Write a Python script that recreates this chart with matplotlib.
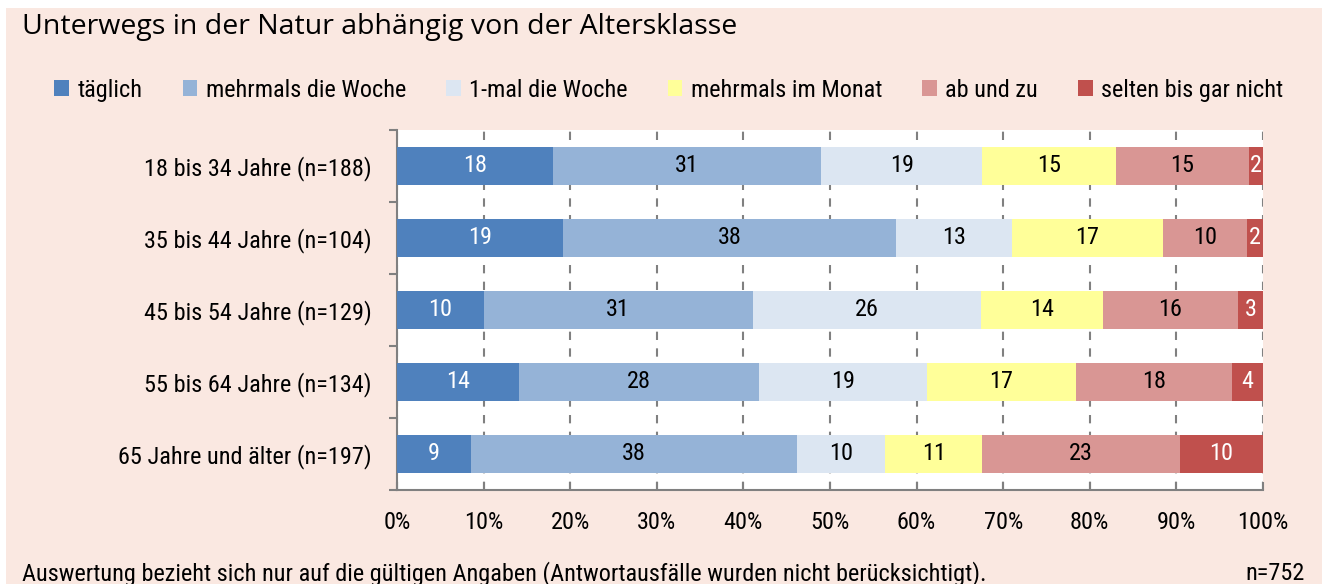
import numpy as np
import matplotlib
matplotlib.use('Agg')
import matplotlib.pyplot as plt
from matplotlib import font_manager as fm

# Data (percent shares per age class)
AGE_CLASSES = ['18 bis 34 Jahre (n=188)', '35 bis 44 Jahre (n=104)', '45 bis 54 Jahre (n=129)',
               '55 bis 64 Jahre (n=134)', '65 Jahre und älter (n=197)']
CATEGORIES = ['täglich', 'mehrmals die Woche', '1-mal die Woche', 'mehrmals im Monat',
              'ab und zu', 'selten bis gar nicht']
taeglich = [18.0, 19.2, 10.0, 14.1, 8.6]
mehrmals_woche = [31.0, 38.4, 31.1, 27.7, 37.6]
einmal_woche = [18.6, 13.4, 26.3, 19.4, 10.2]
mehrmals_monat = [15.4, 17.4, 14.1, 17.2, 11.2]
ab_und_zu = [15.4, 9.8, 15.6, 18.0, 22.8]
selten = [1.6, 1.8, 2.9, 3.6, 9.6]
X_TICKS = [0, 10, 20, 30, 40, 50, 60, 70, 80, 90, 100]

COLORS = ['#4F81BD', '#95B3D7', '#DCE6F2', '#FFFF99', '#D99694', '#C0504D']
LABEL_COLORS = ['white', 'black', 'black', 'black', 'black', 'white']
BG = '#FAE8E1'

narrow = [f for f in ['Liberation Sans Narrow', 'Roboto Condensed', 'Open Sans Condensed']
          if any(f == e.name for e in fm.fontManager.ttflist)]
plt.rcParams['font.family'] = narrow + ['DejaVu Sans']

series = [taeglich, mehrmals_woche, einmal_woche, mehrmals_monat, ab_und_zu, selten]

fig = plt.figure(figsize=(13.22, 5.84), dpi=100, facecolor='white')
# peach panel behind everything
fig.patches.append(plt.Rectangle((6 / 1322, 0), 1, 1 - 8 / 584,
                                 transform=fig.transFigure, facecolor=BG, edgecolor='none', zorder=-10))

ax = fig.add_axes([397 / 1322, 1 - 490 / 584, 866 / 1322, 360 / 584])
ax.set_facecolor('white')

y = np.arange(len(AGE_CLASSES))
left = np.zeros(len(AGE_CLASSES))
for vals, name, col, lcol in zip(series, CATEGORIES, COLORS, LABEL_COLORS):
    vals = np.array(vals)
    ax.barh(y, vals, left=left, height=0.52, color=col, label=name, zorder=3)
    for yi, (l, v) in enumerate(zip(left, vals)):
        ax.text(l + v / 2, yi, f'{v:.0f}', ha='center', va='center', color=lcol,
                fontsize=17.5, zorder=4)
    left += vals

ax.set_xlim(0, 100)
ax.set_ylim(len(AGE_CLASSES) - 0.5, -0.5)
ax.set_xticks(X_TICKS)
ax.set_xticklabels([f'{t}%' for t in X_TICKS], fontsize=17.5)
ax.set_yticks(y)
ax.set_yticklabels(AGE_CLASSES, fontsize=17.5)
ax.set_yticks(np.arange(-0.5, len(AGE_CLASSES)), minor=True)
ax.tick_params(axis='y', which='major', length=0, pad=18)
ax.tick_params(axis='y', which='minor', length=6, color='#808080', width=1.5, direction='out')
ax.tick_params(axis='x', length=6, color='#808080', width=1.5, direction='in', pad=15)
ax.xaxis.grid(True, linestyle=(0, (4, 4)), color='#808080', linewidth=1.5, zorder=1)
for s in ['top', 'right']:
    ax.spines[s].set_visible(False)
for s in ['left', 'bottom']:
    ax.spines[s].set_color('#808080')
    ax.spines[s].set_linewidth(1.5)

fig.text(22 / 1322, 1 - 27 / 584, 'Unterwegs in der Natur abhängig von der Altersklasse',
         fontsize=20.5, family=['Open Sans', 'DejaVu Sans'], va='center', ha='left')

fig.legend(loc='center', bbox_to_anchor=(0.506, 1 - 90 / 584), ncol=6, frameon=False,
           fontsize=17.5, handlelength=0.6, handleheight=0.6, handletextpad=0.35,
           columnspacing=1.65)

fig.text(22 / 1322, 1 - 574 / 584,
         'Auswertung bezieht sich nur auf die gültigen Angaben (Antwortausfälle wurden nicht berücksichtigt).',
         fontsize=17.5, va='center', ha='left')
fig.text(1305 / 1322, 1 - 574 / 584, 'n=752', fontsize=17.5, va='center', ha='right')

fig.savefig('out.png', dpi=100, facecolor='white')
